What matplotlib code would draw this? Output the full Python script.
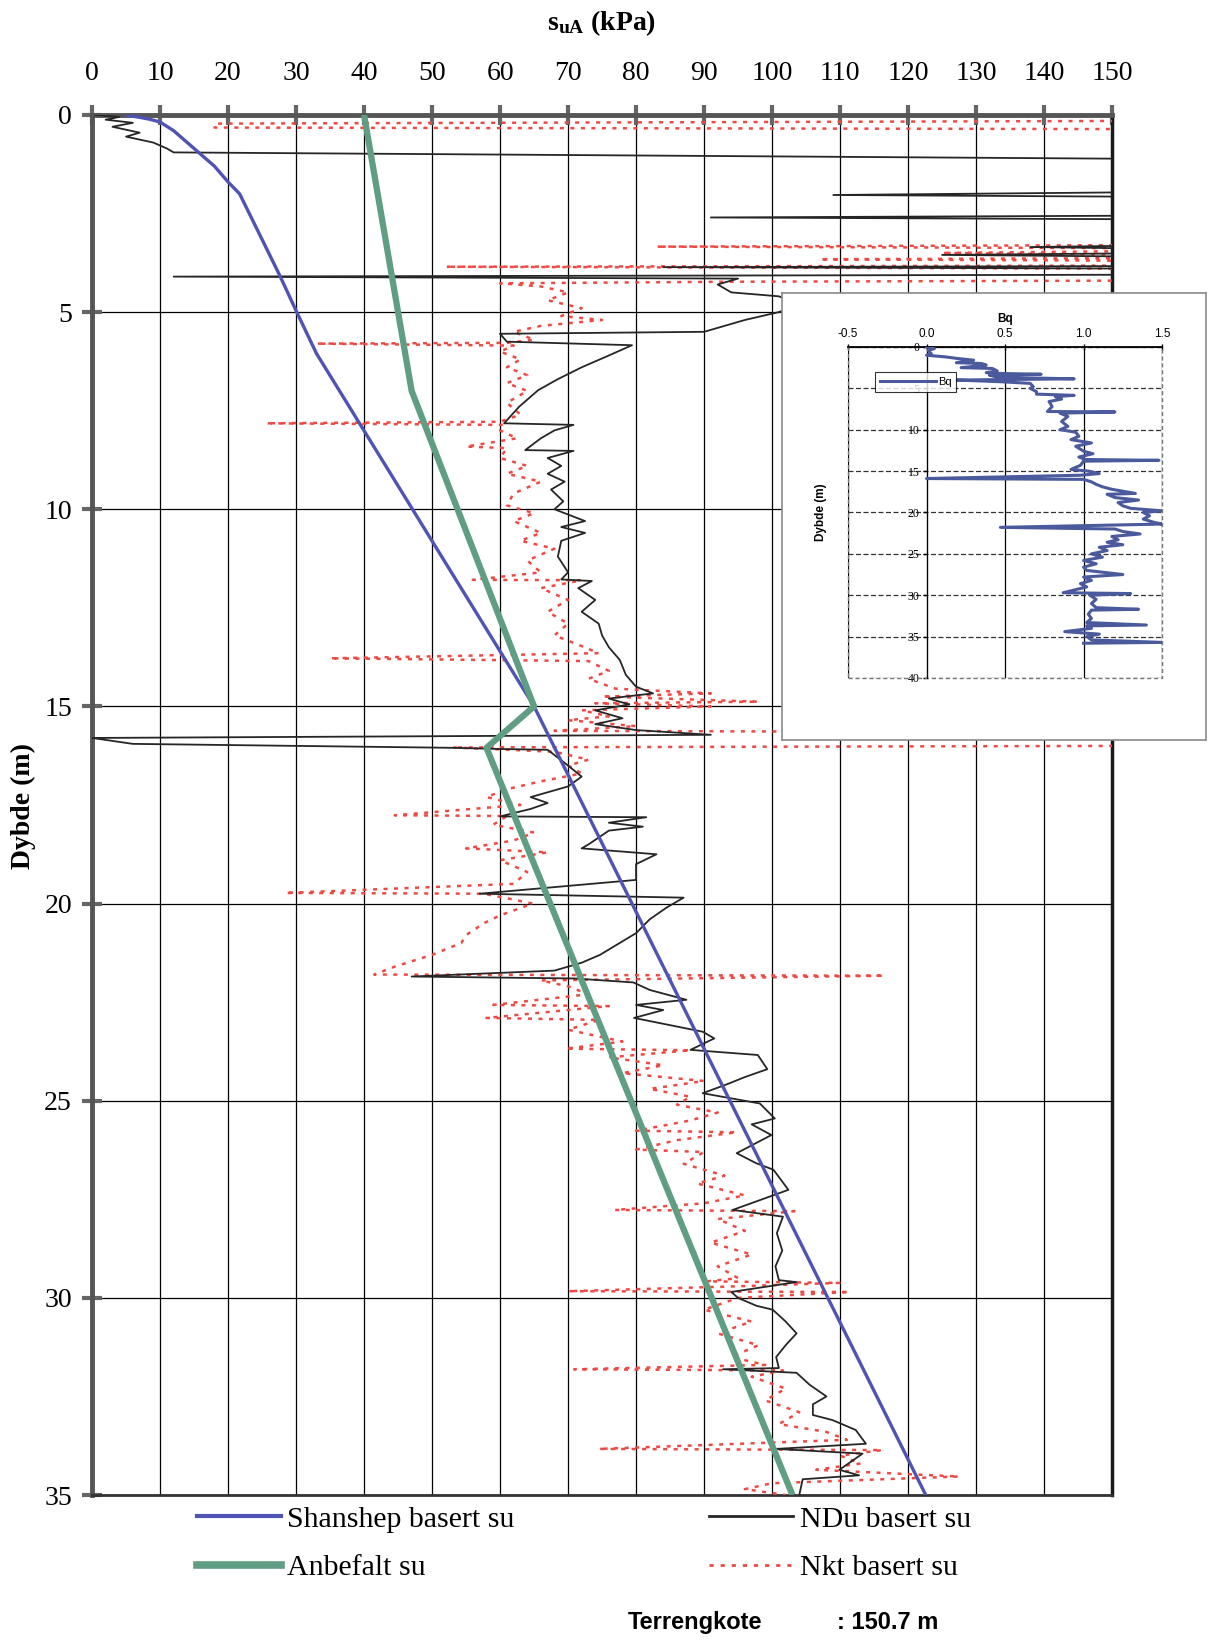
"""
CPTU tolkning - udrenert skjærfasthet s_uA mot dybde, med Bq-profil som innfelt figur
"""

import matplotlib
matplotlib.use("Agg")
import matplotlib.pyplot as plt
from matplotlib.lines import Line2D
from matplotlib.patches import Rectangle

# ── Data ──────────────────────────────────────────────────────────────────────
# Shanshep basert su (kPa) / dybde (m)
shanshep_su = [5.0, 5.5, 7.0, 8.5, 10.0, 12.0, 14.0, 16.0, 18.0, 20.0, 21.7, 27.6, 30.1, 33.0, 65.0, 122.6]
shanshep_d  = [0.0, 0.02, 0.06, 0.11, 0.18, 0.40, 0.70, 1.00, 1.30, 1.70, 2.00, 4.07, 5.00, 6.05, 15.0, 35.0]

# Anbefalt su
anbefalt_su = [40.0, 47.0, 65.0, 58.0, 103.0]
anbefalt_d  = [0.0, 7.0, 15.0, 16.05, 35.0]

# NDu basert su
ndu_su = [0.5, 4, 2, 6, 3, 7, 5, 9, 11, 12, 160, 160, 109, 160, 160, 91, 160, 160, 138, 160,
          160, 125, 160, 160, 84, 160, 160, 12, 95, 92, 94, 101, 104, 101, 96, 90, 60, 61, 79.4, 76,
          72, 68.5, 65.6, 62.8, 60.6, 70.8, 68, 66, 63.7, 70.8, 67, 69, 67, 69.5, 67.5, 69.3, 68, 72.5,
          69, 72.5, 69, 68.5, 70, 69, 73.5, 71.5, 74, 72, 74.5, 75, 76, 77.6, 78.5, 80, 82.5, 76,
          79, 74, 78, 74, 80, 91, 0, 6, 53, 60, 67, 70, 72, 70, 64.5, 67, 64.5, 60, 81.5, 76,
          81, 76, 73, 72, 83, 80, 80, 57, 87, 84.5, 82, 80, 77.6, 74.7, 72, 68, 47, 71, 79.6, 82,
          87.4, 80, 84, 79.7, 89.8, 91.5, 88, 97.9, 99.3, 96, 93.7, 89.8, 98.2, 100.4, 97, 99.9, 94.8,
          97.6, 100.2, 102.4, 94.2, 101.6, 100.7, 101.5, 100.5, 101, 103.6, 94, 95, 97.7, 100.1, 102,
          103.6, 102, 100.6, 101, 92.8, 103.6, 105.5, 108, 106, 106, 108.9, 112.3, 113.8, 100.6, 113.3,
          109.9, 112.8, 104.5, 104]
ndu_d  = [0.0, 0.05, 0.12, 0.2, 0.3, 0.45, 0.55, 0.7, 0.85, 0.95, 1.12, 1.95, 2.03, 2.08, 2.55, 2.6, 2.65, 3.3, 3.35, 3.4,
          3.5, 3.55, 3.6, 3.83, 3.86, 3.9, 4.05, 4.1, 4.15, 4.3, 4.5, 4.6, 4.8, 5.0, 5.2, 5.5, 5.55, 5.75, 5.84, 6.1,
          6.4, 6.7, 6.98, 7.4, 7.82, 7.86, 8.0, 8.2, 8.5, 8.52, 8.7, 8.9, 9.1, 9.3, 9.5, 9.8, 10.0, 10.3,
          10.45, 10.6, 10.8, 11.2, 11.6, 11.78, 11.82, 12.0, 12.3, 12.6, 12.9, 13.2, 13.5, 13.82, 14.2, 14.5, 14.67, 14.8,
          14.95, 15.1, 15.3, 15.45, 15.6, 15.72, 15.8, 15.95, 16.05, 16.08, 16.1, 16.5, 16.78, 17.03, 17.3, 17.45, 17.6, 17.79, 17.81, 17.95,
          18.05, 18.15, 18.5, 18.6, 18.75, 19.0, 19.4, 19.75, 19.85, 20.1, 20.4, 20.75, 21.0, 21.3, 21.5, 21.7, 21.85, 21.9, 22.0, 22.19,
          22.44, 22.57, 22.7, 22.9, 23.25, 23.42, 23.71, 23.84, 24.2, 24.4, 24.56, 24.81, 25.07, 25.45, 25.6, 25.87, 26.33,
          26.58, 26.75, 27.26, 27.77, 27.94, 28.36, 28.8, 29.2, 29.55, 29.6, 29.85, 30.0, 30.2, 30.3, 30.6,
          30.9, 31.2, 31.5, 31.78, 31.81, 31.9, 32.2, 32.5, 32.7, 32.97, 33.1, 33.35, 33.7, 33.83, 33.95,
          34.36, 34.5, 34.6, 35.0]

# Nkt basert su
nkt_su = [155, 18, 18, 155, 155, 83, 155, 155, 125, 155, 155, 107, 155, 155, 52, 155, 155, 94, 60, 66,
          70, 67, 72, 69, 75, 66, 62, 65, 61, 33, 62, 60, 63, 61, 64, 61, 64, 61, 63, 60,
          25.6, 60.5, 60, 62.5, 55, 61, 60, 64, 61, 66, 62, 61, 65, 62, 66, 63, 68, 64, 66, 56,
          72, 66, 70, 67, 70, 68, 71, 74.5, 35, 73, 76, 73, 77, 91, 75, 98, 74, 91, 72, 76,
          70, 80, 68, 155, 155, 53, 68, 73, 70, 72, 66, 61, 58, 63, 44.5, 61, 59, 65, 62, 55,
          67, 60, 64, 62, 28.4, 57.6, 62, 64.8, 60, 57.6, 55, 54.3, 50, 44.5, 41.5, 116.5, 66, 70, 73, 59,
          76, 58, 74.6, 70, 78, 69.6, 88, 76, 84, 78, 90, 82, 88, 86, 92, 88, 80, 94.8, 86, 80,
          90, 87, 93, 89, 96, 90, 76.9, 103.3, 92, 96, 91, 97, 92, 95, 90.4, 109.9, 96, 70, 111.4, 95,
          90, 97, 92, 98, 94, 99, 70.9, 101.6, 97, 102, 99, 104, 101, 108, 111, 74.5, 116.2, 110, 113, 106.5,
          127.5, 100, 96, 102]
nkt_d  = [0.15, 0.22, 0.32, 0.36, 3.3, 3.34, 3.38, 3.45, 3.5, 3.55, 3.63, 3.66, 3.7, 3.82, 3.85, 3.9, 4.2, 4.23, 4.27, 4.35,
          4.5, 4.7, 4.9, 5.1, 5.2, 5.35, 5.5, 5.7, 5.78, 5.8, 5.85, 6.0, 6.2, 6.4, 6.6, 6.8, 7.0, 7.3, 7.6, 7.78,
          7.82, 7.86, 8.0, 8.2, 8.41, 8.45, 8.7, 8.9, 9.1, 9.3, 9.6, 9.9, 10.1, 10.3, 10.6, 10.8, 11.0, 11.3, 11.6, 11.79,
          11.8, 12.0, 12.3, 12.6, 12.9, 13.2, 13.4, 13.65, 13.78, 13.85, 14.1, 14.3, 14.55, 14.67, 14.75, 14.88, 14.92, 15.0, 15.1, 15.25,
          15.35, 15.5, 15.62, 15.66, 16.0, 16.04, 16.15, 16.35, 16.5, 16.7, 16.9, 17.1, 17.3, 17.5, 17.76, 17.78, 18.0, 18.2, 18.4, 18.6,
          18.7, 18.9, 19.2, 19.5, 19.73, 19.75, 19.9, 20.0, 20.3, 20.5, 20.8, 21.0, 21.3, 21.6, 21.8, 21.83, 21.95, 22.1, 22.3, 22.57,
          22.6, 22.9, 22.95, 23.2, 23.5, 23.68, 23.72, 23.9, 24.1, 24.3, 24.5, 24.7, 24.9, 25.1, 25.3, 25.5, 25.76, 25.8, 26.0, 26.24,
          26.3, 26.6, 26.9, 27.1, 27.4, 27.6, 27.77, 27.8, 28.0, 28.3, 28.6, 28.9, 29.2, 29.5, 29.58, 29.62, 29.7, 29.83, 29.85, 30.0,
          30.3, 30.6, 30.9, 31.2, 31.5, 31.7, 31.81, 31.84, 32.0, 32.3, 32.6, 32.9, 33.2, 33.4, 33.6, 33.83, 33.86, 34.0, 34.2, 34.36,
          34.53, 34.7, 34.85, 35.0]

# Bq (innfelt)
bq_val = [0.0, 0.05, 0.01, 0.03, 0.0, 0.12, 0.2, 0.3, 0.19, 0.35, 0.38, 0.22, 0.42, 0.45, 0.38, 0.46, 0.73, 0.4, 0.44, 0.55,
          0.94, 0.19, 0.47, 0.66, 0.68, 0.66, 0.7, 0.7, 0.94, 0.82, 0.86, 0.78, 0.8, 0.77, 1.2, 0.85, 0.9, 0.86, 0.9, 0.85,
          0.95, 0.97, 0.92, 1.05, 0.95, 1.0, 1.06, 0.97, 1.01, 1.48, 1.0, 0.98, 0.92, 1.03, 1.1, 0.98, 0.0, 1.0, 1.05, 1.08,
          1.12, 1.18, 1.33, 1.15, 1.2, 1.35, 1.22, 1.25, 1.3, 1.5, 1.38, 1.42, 1.38, 1.45, 1.5, 0.47, 1.2, 1.25, 1.36, 1.18,
          1.22, 1.15, 1.25, 1.1, 1.15, 1.05, 1.12, 1.0, 1.08, 1.0, 1.02, 1.25, 1.0, 1.05, 0.98, 1.02, 0.87, 1.3, 1.04, 1.08,
          1.05, 1.08, 1.35, 1.05, 1.03, 1.05, 1.02, 1.4, 1.02, 1.05, 0.88, 1.1, 1.02, 1.05, 1.5, 1.0]
bq_d   = [0.0, 0.2, 0.4, 0.8, 1.0, 1.2, 1.4, 1.6, 1.9, 2.0, 2.2, 2.5, 2.6, 2.9, 3.1, 3.2, 3.3, 3.4, 3.6, 3.7,
          3.85, 4.0, 4.2, 4.4, 4.8, 5.0, 5.4, 5.7, 5.85, 6.0, 6.3, 6.6, 7.2, 7.8, 7.85, 8.0, 8.4, 9.0, 9.6, 10.0,
          10.3, 10.8, 11.2, 11.6, 12.0, 12.6, 12.9, 13.3, 13.6, 13.7, 13.8, 14.3, 14.8, 15.0, 15.3, 15.5, 15.9, 16.0, 16.3, 16.6,
          16.9, 17.2, 17.7, 17.8, 18.2, 18.5, 18.8, 19.2, 19.5, 19.8, 20.0, 20.4, 20.8, 21.2, 21.4, 21.8, 22.0, 22.3, 22.6, 22.9,
          23.3, 23.6, 23.9, 24.2, 24.6, 25.0, 25.4, 25.8, 26.2, 26.6, 27.0, 27.5, 27.8, 28.2, 28.6, 29.0, 29.7, 29.8, 30.0, 30.5,
          31.0, 31.5, 31.7, 31.8, 32.3, 32.8, 33.3, 33.6, 33.7, 34.0, 34.4, 34.7, 35.0, 35.4, 35.7, 35.8]

su_ticks    = list(range(0, 151, 10))
depth_ticks = list(range(0, 36, 5))
bq_ticks    = [-0.5, 0.0, 0.5, 1.0, 1.5]
bq_dticks   = list(range(0, 41, 5))

# ── Stil ──────────────────────────────────────────────────────────────────────
SERIF = "Liberation Serif"
SANS  = "Liberation Sans"
plt.rcParams["font.family"] = [SERIF, "DejaVu Serif"]
plt.rcParams["mathtext.fontset"] = "custom"
plt.rcParams["mathtext.rm"] = SERIF
plt.rcParams["mathtext.bf"] = SERIF + ":bold"

C_BLUE  = "#4f53b3"
C_GREEN = "#5f9e82"
C_BLACK = "#262626"
C_RED   = "#ee4a44"
C_BQ    = "#4a5a9c"


def plot_main(fig):
    ax = fig.add_axes([0.0762, 0.0895, 0.8444, 0.8405])
    ax.set_xlim(0, 150)
    ax.set_ylim(35, 0)

    ax.plot(nkt_su, nkt_d, color=C_RED, lw=1.8, ls=(0, (1.6, 2.6)), zorder=3)
    ax.plot(ndu_su, ndu_d, color=C_BLACK, lw=1.3, zorder=4)
    ax.plot(shanshep_su, shanshep_d, color=C_BLUE, lw=2.4, zorder=5)
    ax.plot(anbefalt_su, anbefalt_d, color=C_GREEN, lw=4.5, zorder=5, solid_capstyle="butt")

    ax.xaxis.tick_top()
    ax.set_xticks(su_ticks)
    ax.set_yticks(depth_ticks)
    ax.tick_params(axis="x", direction="inout", length=15, width=3, color="#666666",
                   pad=13, labelsize=20)
    ax.tick_params(axis="y", direction="inout", length=15, width=3, color="#666666",
                   pad=7, labelsize=20)
    ax.grid(True, color="black", lw=0.9, zorder=1)
    ax.set_axisbelow(True)

    for side in ("top", "left"):
        ax.spines[side].set_color("#555555")
        ax.spines[side].set_linewidth(3.5)
    ax.spines["right"].set_color("#1a1a1a")
    ax.spines["right"].set_linewidth(2.5)
    ax.spines["bottom"].set_color("#333333")
    ax.spines["bottom"].set_linewidth(2)
    return ax


def plot_inset(fig):
    box = fig.add_axes([0.6474, 0.5493, 0.351, 0.2722])
    box.set_zorder(5)
    box.set_xticks([]); box.set_yticks([])
    box.set_facecolor("white")
    for s in box.spines.values():
        s.set_color("#8a8a8a")
        s.set_linewidth(1.2)

    ax = fig.add_axes([0.702, 0.5871, 0.26, 0.2016])
    ax.set_zorder(6)
    ax.set_facecolor("white")
    ax.set_xlim(-0.5, 1.5)
    ax.set_ylim(40, 0)

    ax.plot(bq_val, bq_d, color=C_BQ, lw=2.2, label="Bq", zorder=4)

    ax.xaxis.tick_top()
    ax.xaxis.set_label_position("top")
    ax.set_xticks(bq_ticks)
    ax.set_xticklabels([f"{t:.1f}" for t in bq_ticks], family=SANS)
    ax.set_yticks(bq_dticks)
    ax.set_yticklabels([str(t) for t in bq_dticks], family=SANS)
    ax.tick_params(axis="x", direction="inout", length=4, width=1, pad=3, labelsize=8.5)
    ax.tick_params(axis="y", direction="out", length=3, width=1, pad=2, labelsize=8.5)

    ax.xaxis.grid(True, color="black", lw=0.9)
    ax.yaxis.grid(True, color="#333333", lw=0.9, ls=(0, (4, 2)))
    ax.set_axisbelow(True)

    ax.spines["left"].set_position(("data", 0))
    ax.spines["left"].set_color("black")
    ax.spines["top"].set_color("black")
    ax.spines["top"].set_linewidth(1.3)
    for side in ("right", "bottom"):
        ax.spines[side].set_visible(False)
    ax.add_patch(Rectangle((0, 0), 1, 1, transform=ax.transAxes, fill=False,
                           ec="#777777", lw=1.0, ls=(0, (3, 2)), clip_on=False, zorder=2))

    ax.set_xlabel("Bq", family=SANS, fontsize=8.5, fontweight="bold", labelpad=4)
    ax.set_ylabel("Dybde (m)", family=SANS, fontsize=8.5, fontweight="bold")
    ax.yaxis.set_label_coords(-0.067, 0.5)

    leg = ax.legend(loc="upper left", bbox_to_anchor=(0.086, 0.925), prop={"family": SANS, "size": 8},
                    frameon=True, fancybox=False, edgecolor="black", handlelength=5.0,
                    handletextpad=0.2, borderpad=0.45, borderaxespad=0)
    leg.get_frame().set_linewidth(0.8)
    leg.set_zorder(7)
    return ax


def plot_legend(fig):
    left_items = [Line2D([], [], color=C_BLUE, lw=3.0), Line2D([], [], color=C_GREEN, lw=5.5)]
    right_items = [Line2D([], [], color=C_BLACK, lw=2.0), Line2D([], [], color=C_RED, lw=2.0, ls=(0, (1.5, 2.5)))]
    kw = dict(loc="upper left", frameon=False, fontsize=21.5, handlelength=2.8, handletextpad=0.23,
              labelspacing=0.72, borderpad=0, borderaxespad=0)
    fig.legend(left_items, ["Shanshep basert su", "Anbefalt su"], bbox_to_anchor=(0.163, 0.0828), **kw)
    fig.legend(right_items, ["NDu basert su", "Nkt basert su"], bbox_to_anchor=(0.587, 0.0828), **kw)


def main():
    fig = plt.figure(figsize=(12.08, 16.42), dpi=100)
    fig.patch.set_facecolor("white")

    plot_main(fig)
    plot_inset(fig)
    plot_legend(fig)

    fig.text(0.4983, 1 - 23 / 1642, r"$\mathbf{s_{uA}}$ (kPa)", ha="center", va="center",
             fontsize=20, fontweight="bold")
    fig.text(23 / 1208, 1 - 806 / 1642, "Dybde (m)", rotation=90, ha="center", va="center",
             fontsize=20, fontweight="bold")
    fig.text(628 / 1208, 1 - 1622 / 1642, "Terrengkote", ha="left", va="center",
             family=[SANS], fontsize=17, fontweight="bold")
    fig.text(837 / 1208, 1 - 1622 / 1642, ": 150.7 m", ha="left", va="center",
             family=[SANS], fontsize=17, fontweight="bold")

    fig.savefig("out.png", dpi=100)
    plt.close(fig)


if __name__ == "__main__":
    main()
